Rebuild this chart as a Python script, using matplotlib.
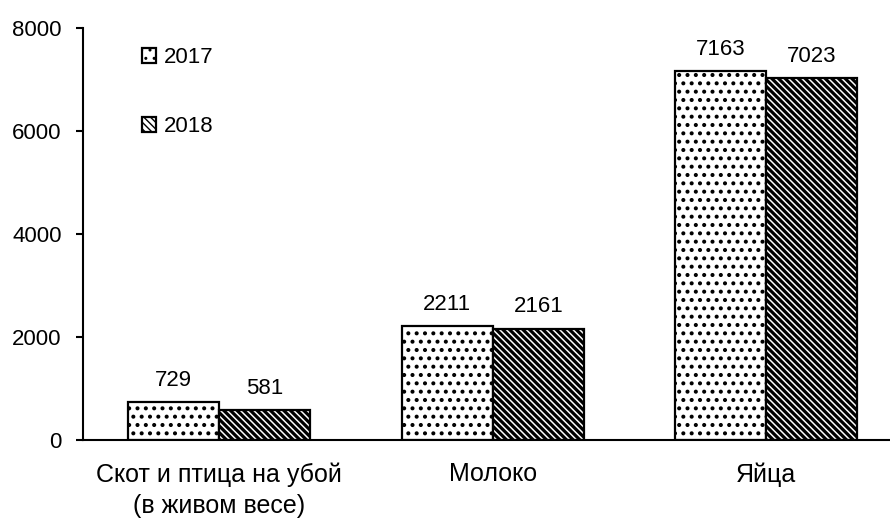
import matplotlib
matplotlib.use("Agg")
import matplotlib.pyplot as plt
import numpy as np

categories = ["Скот и птица на убой\n(в живом весе)", "Молоко", "Яйца"]
years = ["2017", "2018"]
values_2017 = [729, 2211, 7163]
values_2018 = [581, 2161, 7023]
yticks = [0, 2000, 4000, 6000, 8000]

plt.rcParams["font.family"] = ["Liberation Sans", "DejaVu Sans"]
plt.rcParams["font.size"] = 16

fig = plt.figure(figsize=(8.9, 5.21), dpi=100)
ax = fig.add_axes([0.0929, 0.1555, 1.0143 - 0.0929, 0.9472 - 0.1555])

x = np.arange(len(categories))
w = 1 / 3
b1 = ax.bar(x - w / 2, values_2017, width=w, color="white", edgecolor="black",
            linewidth=1.6, hatch="..", label=years[0])
b2 = ax.bar(x + w / 2, values_2018, width=w, color="white", edgecolor="black",
            linewidth=1.6, hatch="\\\\\\\\\\", label=years[1])
for bar in b1:
    bar.set_hatch_linewidth(1.7)
for bar in b2:
    bar.set_hatch_linewidth(2.3)

for bars, vals in ((b1, values_2017), (b2, values_2018)):
    for bar, v in zip(bars, vals):
        ax.annotate(f"{v}", (bar.get_x() + bar.get_width() / 2, v),
                    xytext=(0, 8), textcoords="offset points",
                    ha="center", va="bottom", fontsize=16)

ax.set_xlim(-0.5, 2.5)
ax.set_ylim(0, 8000)
ax.set_yticks(yticks)
ax.set_xticks(x)
ax.set_xticklabels(categories, fontsize=18, linespacing=1.4)
ax.tick_params(axis="x", length=0, pad=16)
ax.tick_params(axis="y", length=5, width=1.5, pad=10, labelsize=16)
for side in ("top", "right"):
    ax.spines[side].set_visible(False)
for side in ("left", "bottom"):
    ax.spines[side].set_linewidth(1.5)

leg = ax.legend(loc="upper left", bbox_to_anchor=(0.1596, 0.909),
                bbox_transform=fig.transFigure, frameon=False,
                handlelength=0.63, handleheight=0.63, handletextpad=0.36,
                labelspacing=2.15, borderpad=0, borderaxespad=0, fontsize=16)

fig.savefig("out.png", dpi=100)
